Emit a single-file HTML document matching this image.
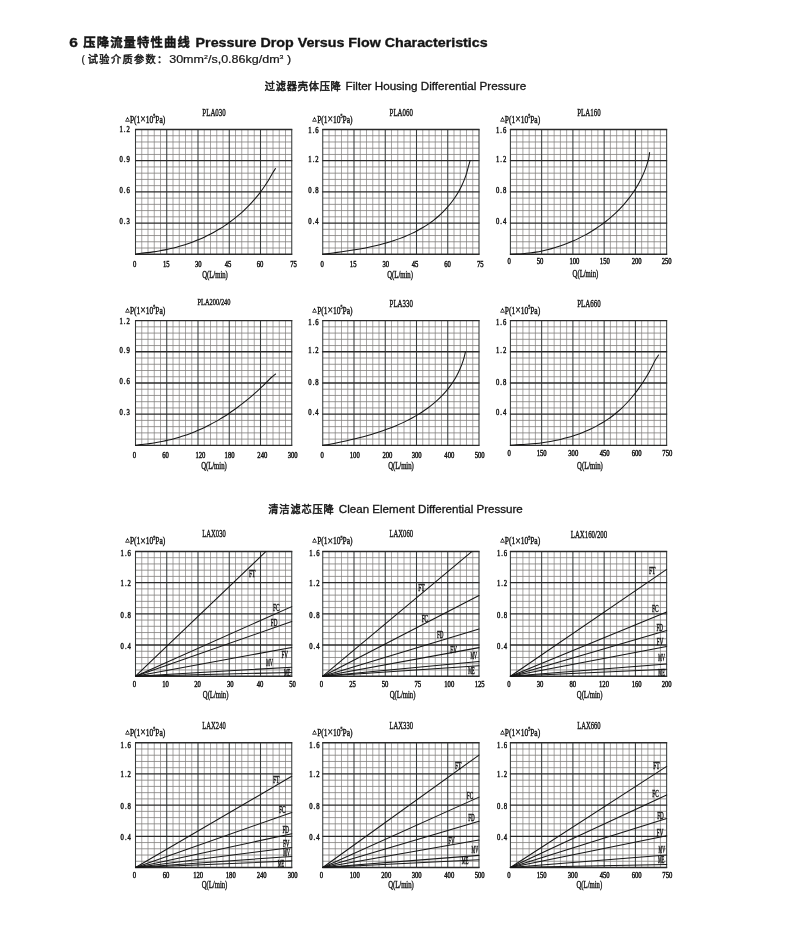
<!DOCTYPE html>
<html lang="zh"><head><meta charset="utf-8"><title>6 压降流量特性曲线 Pressure Drop Versus Flow Characteristics</title>
<style>
html,body{margin:0;padding:0;background:#fff;}
body{width:800px;height:927px;overflow:hidden;position:relative;}
svg{position:absolute;left:0;top:0;display:block;}
text{font-family:"Liberation Serif", serif;fill:#151515;stroke:#151515;stroke-width:0.4px;}
.sans{font-family:"Liberation Sans", "Noto Sans CJK SC", sans-serif;stroke:none;}
.mn{stroke-width:0.5px;}
.miv{fill:none;stroke:#82807e;stroke-width:0.7;}
.mih{fill:none;stroke:#807d7b;stroke-width:0.8;}
.mav{fill:none;stroke:#363a3a;stroke-width:1.05;}
.mah{fill:none;stroke:#2a2a2a;stroke-width:1.35;}
.cv{fill:none;stroke:#161616;stroke-width:1.05;stroke-linecap:round;}
</style></head>
<body>

<svg width="800" height="927" viewBox="0 0 800 927">
<rect width="800" height="927" fill="#fff"/>
<text class="sans" x="69.3" y="46.9" font-size="13.2" font-weight="bold" textLength="8.6" lengthAdjust="spacingAndGlyphs" style="stroke:#151515;stroke-width:0.35px">6</text>
<text class="sans" x="83.2" y="46.9" font-size="12.3" font-weight="bold" textLength="106.6" lengthAdjust="spacing" style="stroke:#151515;stroke-width:0.45px">压降流量特性曲线</text>
<text class="sans" x="195.6" y="46.8" font-size="12.9" font-weight="bold" textLength="292" lengthAdjust="spacingAndGlyphs" style="stroke:#151515;stroke-width:0.35px">Pressure Drop Versus Flow Characteristics</text>
<text class="sans" x="81.5" y="62.6" font-size="10.7" textLength="3.4" lengthAdjust="spacingAndGlyphs" style="stroke:#151515;stroke-width:0.2px">(</text>
<text class="sans" x="87.8" y="62.5" font-size="10.2" textLength="79.5" lengthAdjust="spacing" style="stroke:#151515;stroke-width:0.45px">试验介质参数：</text>
<text class="sans" x="169.2" y="62.6" font-size="10.7" textLength="122" lengthAdjust="spacingAndGlyphs" style="stroke:#151515;stroke-width:0.2px">30mm<tspan font-size="6" dy="-4">2</tspan><tspan dy="4">/s,0.86kg/dm</tspan><tspan font-size="6" dy="-4">3</tspan><tspan dy="4"> )</tspan></text>
<text class="sans" x="264.8" y="90.1" font-size="10.2" textLength="76" lengthAdjust="spacing" style="stroke:#151515;stroke-width:0.5px">过滤器壳体压降</text>
<text class="sans" x="345.6" y="90" font-size="10.8" textLength="180.6" lengthAdjust="spacingAndGlyphs" style="stroke:#151515;stroke-width:0.3px">Filter Housing Differential Pressure</text>
<text class="sans" x="268.3" y="512.6" font-size="10.2" textLength="65.4" lengthAdjust="spacing" style="stroke:#151515;stroke-width:0.5px">清洁滤芯压降</text>
<text class="sans" x="338.8" y="512.5" font-size="10.8" textLength="184" lengthAdjust="spacingAndGlyphs" style="stroke:#151515;stroke-width:0.3px">Clean Element Differential Pressure</text>
<g>
<path class="miv" d="M141.75 129.5V254.25M148 129.5V254.25M154.25 129.5V254.25M160.5 129.5V254.25M173 129.5V254.25M179.25 129.5V254.25M185.5 129.5V254.25M191.75 129.5V254.25M204.25 129.5V254.25M210.5 129.5V254.25M216.75 129.5V254.25M223 129.5V254.25M235.5 129.5V254.25M241.75 129.5V254.25M248 129.5V254.25M254.25 129.5V254.25M266.75 129.5V254.25M273 129.5V254.25M279.25 129.5V254.25M285.5 129.5V254.25"/>
<path class="mih" d="M135.5 135.74H291.75M135.5 141.97H291.75M135.5 148.21H291.75M135.5 154.45H291.75M135.5 166.93H291.75M135.5 173.16H291.75M135.5 179.4H291.75M135.5 185.64H291.75M135.5 198.11H291.75M135.5 204.35H291.75M135.5 210.59H291.75M135.5 216.82H291.75M135.5 229.3H291.75M135.5 235.54H291.75M135.5 241.78H291.75M135.5 248.01H291.75"/>
<path class="mav" d="M135.5 129V254.75M166.75 129V254.75M198 129V254.75M229.25 129V254.75M260.5 129V254.75M291.75 129V254.75"/>
<path class="mah" d="M135 129.5H292.25M135 160.69H292.25M135 191.88H292.25M135 223.06H292.25M135 254.25H292.25"/>
<text x="214.03" y="115.9" font-size="10.6" text-anchor="middle" textLength="23.4" lengthAdjust="spacingAndGlyphs">PLA030</text>
<text x="125" y="120.8" font-size="5.4" fill="#9a9a9a" stroke="none">&#9651;</text>
<text x="129.9" y="122.8" font-size="9.6" textLength="35.4" lengthAdjust="spacingAndGlyphs">P(1<tspan font-size="12.5" dy="0.3">&#215;</tspan><tspan dy="-0.3">10</tspan><tspan font-size="5.2" dy="-4.6">5</tspan><tspan dy="4.6">Pa)</tspan></text>
<text class="mn" transform="scale(0.74 1)" x="161.5 167.29 170.82" y="132.5" font-size="9">1.2</text>
<text class="mn" transform="scale(0.74 1)" x="161.5 167.29 170.82" y="162.29" font-size="9">0.9</text>
<text class="mn" transform="scale(0.74 1)" x="161.5 167.29 170.82" y="193.38" font-size="9">0.6</text>
<text class="mn" transform="scale(0.74 1)" x="161.5 167.29 170.82" y="223.86" font-size="9">0.3</text>
<text class="mn" transform="scale(0.74 1)" x="179.84" y="266.8" font-size="9">0</text>
<text class="mn" transform="scale(0.74 1)" x="220.18 224.64" y="266.8" font-size="9">15</text>
<text class="mn" transform="scale(0.74 1)" x="263.43 267.89" y="266.8" font-size="9">30</text>
<text class="mn" transform="scale(0.74 1)" x="303.63 308.09" y="266.8" font-size="9">45</text>
<text class="mn" transform="scale(0.74 1)" x="346.87 351.33" y="266.8" font-size="9">60</text>
<text class="mn" transform="scale(0.74 1)" x="392.14 396.6" y="266.8" font-size="9">75</text>
<text x="215.03" y="277.75" font-size="9.6" text-anchor="middle" textLength="25.6" lengthAdjust="spacingAndGlyphs">Q(L/min)</text>
</g>
<path class="cv" d="M135.5 254.25C136.46 254.08 139.31 253.49 141.27 253.22C143.22 252.96 145.24 252.86 147.22 252.64C149.2 252.42 151.18 252.17 153.15 251.89C155.13 251.61 157.09 251.31 159.05 250.97C161.02 250.64 162.97 250.27 164.92 249.88C166.86 249.49 168.8 249.06 170.73 248.61C172.67 248.16 174.59 247.68 176.5 247.17C178.41 246.65 180.31 246.11 182.2 245.54C184.09 244.97 185.98 244.36 187.84 243.73C189.71 243.09 191.56 242.43 193.4 241.73C195.24 241.03 197.07 240.3 198.88 239.54C200.7 238.78 202.49 237.98 204.28 237.15C206.06 236.33 207.82 235.47 209.57 234.57C211.32 233.68 213.05 232.75 214.76 231.79C216.47 230.83 218.16 229.83 219.84 228.81C221.51 227.78 223.16 226.72 224.8 225.63C226.43 224.54 228.04 223.42 229.63 222.27C231.22 221.11 232.78 219.93 234.33 218.71C235.87 217.49 237.39 216.25 238.88 214.97C240.38 213.69 241.85 212.38 243.29 211.04C244.74 209.71 246.16 208.34 247.55 206.94C248.94 205.54 250.3 204.11 251.64 202.66C252.97 201.2 254.28 199.71 255.56 198.2C256.83 196.68 258.08 195.14 259.3 193.57C260.51 192 261.7 190.4 262.85 188.77C264.01 187.15 265.13 185.49 266.22 183.81C267.31 182.13 268.36 180.42 269.38 178.69C270.4 176.95 271.32 175.1 272.34 173.41C273.36 171.71 274.97 169.32 275.5 168.5"/>
<g>
<path class="miv" d="M329 129.5V254.25M335.25 129.5V254.25M341.5 129.5V254.25M347.75 129.5V254.25M360.25 129.5V254.25M366.5 129.5V254.25M372.75 129.5V254.25M379 129.5V254.25M391.5 129.5V254.25M397.75 129.5V254.25M404 129.5V254.25M410.25 129.5V254.25M422.75 129.5V254.25M429 129.5V254.25M435.25 129.5V254.25M441.5 129.5V254.25M454 129.5V254.25M460.25 129.5V254.25M466.5 129.5V254.25M472.75 129.5V254.25"/>
<path class="mih" d="M322.75 135.74H479M322.75 141.97H479M322.75 148.21H479M322.75 154.45H479M322.75 166.93H479M322.75 173.16H479M322.75 179.4H479M322.75 185.64H479M322.75 198.11H479M322.75 204.35H479M322.75 210.59H479M322.75 216.82H479M322.75 229.3H479M322.75 235.54H479M322.75 241.78H479M322.75 248.01H479"/>
<path class="mav" d="M322.75 129V254.75M354 129V254.75M385.25 129V254.75M416.5 129V254.75M447.75 129V254.75M479 129V254.75"/>
<path class="mah" d="M322.25 129.5H479.5M322.25 160.69H479.5M322.25 191.88H479.5M322.25 223.06H479.5M322.25 254.25H479.5"/>
<text x="401.27" y="115.9" font-size="10.6" text-anchor="middle" textLength="23.4" lengthAdjust="spacingAndGlyphs">PLA060</text>
<text x="312.25" y="120.8" font-size="5.4" fill="#9a9a9a" stroke="none">&#9651;</text>
<text x="317.15" y="122.8" font-size="9.6" textLength="35.4" lengthAdjust="spacingAndGlyphs">P(1<tspan font-size="12.5" dy="0.3">&#215;</tspan><tspan dy="-0.3">10</tspan><tspan font-size="5.2" dy="-4.6">5</tspan><tspan dy="4.6">Pa)</tspan></text>
<text class="mn" transform="scale(0.74 1)" x="416.7 422.49 426.03" y="133.5" font-size="9">1.6</text>
<text class="mn" transform="scale(0.74 1)" x="416.7 422.49 426.03" y="162.19" font-size="9">1.2</text>
<text class="mn" transform="scale(0.74 1)" x="416.7 422.49 426.03" y="193.47" font-size="9">0.8</text>
<text class="mn" transform="scale(0.74 1)" x="416.7 422.49 426.03" y="224.06" font-size="9">0.4</text>
<text class="mn" transform="scale(0.74 1)" x="433.02" y="266.8" font-size="9">0</text>
<text class="mn" transform="scale(0.74 1)" x="472.82 477.28" y="266.8" font-size="9">15</text>
<text class="mn" transform="scale(0.74 1)" x="516.87 521.33" y="266.8" font-size="9">30</text>
<text class="mn" transform="scale(0.74 1)" x="556.33 560.79" y="266.8" font-size="9">45</text>
<text class="mn" transform="scale(0.74 1)" x="600.25 604.71" y="266.8" font-size="9">60</text>
<text class="mn" transform="scale(0.74 1)" x="644.57 649.03" y="266.8" font-size="9">75</text>
<text x="400.07" y="277.55" font-size="9.6" text-anchor="middle" textLength="25.6" lengthAdjust="spacingAndGlyphs">Q(L/min)</text>
</g>
<path class="cv" d="M322.75 254.25C323.83 254.11 327.11 253.68 329.23 253.41C331.36 253.14 333.39 252.89 335.48 252.61C337.58 252.34 339.7 252.06 341.83 251.76C343.95 251.46 346.09 251.16 348.23 250.83C350.38 250.51 352.53 250.17 354.69 249.81C356.85 249.45 359.01 249.08 361.17 248.68C363.34 248.28 365.5 247.86 367.66 247.42C369.82 246.98 371.99 246.51 374.14 246.02C376.29 245.52 378.44 245.01 380.58 244.45C382.71 243.9 384.84 243.33 386.96 242.71C389.07 242.1 391.18 241.46 393.26 240.77C395.35 240.09 397.42 239.38 399.47 238.62C401.52 237.87 403.55 237.08 405.56 236.24C407.56 235.41 409.55 234.53 411.5 233.61C413.46 232.69 415.39 231.73 417.29 230.72C419.19 229.71 421.06 228.65 422.89 227.54C424.73 226.44 426.53 225.28 428.29 224.07C430.06 222.86 431.79 221.61 433.47 220.3C435.16 218.99 436.8 217.63 438.4 216.23C440 214.82 441.56 213.37 443.07 211.86C444.58 210.36 446.04 208.81 447.45 207.21C448.86 205.61 450.22 203.96 451.53 202.27C452.83 200.57 454.08 198.83 455.28 197.04C456.47 195.25 457.6 193.41 458.67 191.53C459.75 189.65 460.76 187.72 461.7 185.74C462.65 183.76 463.53 181.74 464.34 179.68C465.15 177.61 465.9 175.5 466.57 173.34C467.24 171.18 467.77 168.86 468.36 166.73C468.95 164.61 469.81 161.62 470.1 160.6"/>
<g>
<path class="miv" d="M516.65 129.5V254.25M522.9 129.5V254.25M529.15 129.5V254.25M535.4 129.5V254.25M547.9 129.5V254.25M554.15 129.5V254.25M560.4 129.5V254.25M566.65 129.5V254.25M579.15 129.5V254.25M585.4 129.5V254.25M591.65 129.5V254.25M597.9 129.5V254.25M610.4 129.5V254.25M616.65 129.5V254.25M622.9 129.5V254.25M629.15 129.5V254.25M641.65 129.5V254.25M647.9 129.5V254.25M654.15 129.5V254.25M660.4 129.5V254.25"/>
<path class="mih" d="M510.4 135.74H666.65M510.4 141.97H666.65M510.4 148.21H666.65M510.4 154.45H666.65M510.4 166.93H666.65M510.4 173.16H666.65M510.4 179.4H666.65M510.4 185.64H666.65M510.4 198.11H666.65M510.4 204.35H666.65M510.4 210.59H666.65M510.4 216.82H666.65M510.4 229.3H666.65M510.4 235.54H666.65M510.4 241.78H666.65M510.4 248.01H666.65"/>
<path class="mav" d="M510.4 129V254.75M541.65 129V254.75M572.9 129V254.75M604.15 129V254.75M635.4 129V254.75M666.65 129V254.75"/>
<path class="mah" d="M509.9 129.5H667.15M509.9 160.69H667.15M509.9 191.88H667.15M509.9 223.06H667.15M509.9 254.25H667.15"/>
<text x="588.92" y="115.9" font-size="10.6" text-anchor="middle" textLength="23.4" lengthAdjust="spacingAndGlyphs">PLA160</text>
<text x="499.9" y="120.8" font-size="5.4" fill="#9a9a9a" stroke="none">&#9651;</text>
<text x="504.8" y="122.8" font-size="9.6" textLength="35.4" lengthAdjust="spacingAndGlyphs">P(1<tspan font-size="12.5" dy="0.3">&#215;</tspan><tspan dy="-0.3">10</tspan><tspan font-size="5.2" dy="-4.6">5</tspan><tspan dy="4.6">Pa)</tspan></text>
<text class="mn" transform="scale(0.74 1)" x="670.28 676.07 679.61" y="133.5" font-size="9">1.6</text>
<text class="mn" transform="scale(0.74 1)" x="670.28 676.07 679.61" y="162.19" font-size="9">1.2</text>
<text class="mn" transform="scale(0.74 1)" x="670.28 676.07 679.61" y="193.47" font-size="9">0.8</text>
<text class="mn" transform="scale(0.74 1)" x="670.28 676.07 679.61" y="224.06" font-size="9">0.4</text>
<text class="mn" transform="scale(0.74 1)" x="685.72" y="264.5" font-size="9">0</text>
<text class="mn" transform="scale(0.74 1)" x="725.25 729.71" y="264.5" font-size="9">50</text>
<text class="mn" transform="scale(0.74 1)" x="769.51 773.97 778.43" y="264.5" font-size="9">100</text>
<text class="mn" transform="scale(0.74 1)" x="810.59 815.05 819.51" y="264.5" font-size="9">150</text>
<text class="mn" transform="scale(0.74 1)" x="853.7 858.16 862.61" y="264.5" font-size="9">200</text>
<text class="mn" transform="scale(0.74 1)" x="894.1 898.56 903.02" y="264.5" font-size="9">250</text>
<text x="585.42" y="276.75" font-size="9.6" text-anchor="middle" textLength="25.6" lengthAdjust="spacingAndGlyphs">Q(L/min)</text>
</g>
<path class="cv" d="M510.4 254.25C511.49 254.22 514.8 254.17 516.93 254.08C519.06 253.99 521.11 253.88 523.2 253.71C525.3 253.54 527.4 253.33 529.49 253.07C531.59 252.8 533.69 252.5 535.79 252.14C537.88 251.79 539.98 251.39 542.07 250.95C544.16 250.51 546.25 250.02 548.32 249.49C550.4 248.96 552.48 248.39 554.54 247.77C556.6 247.16 558.65 246.5 560.69 245.8C562.73 245.1 564.76 244.35 566.77 243.57C568.79 242.78 570.79 241.96 572.77 241.09C574.75 240.22 576.72 239.31 578.66 238.37C580.61 237.42 582.53 236.43 584.44 235.4C586.34 234.38 588.22 233.31 590.08 232.21C591.94 231.1 593.77 229.96 595.58 228.78C597.38 227.6 599.16 226.38 600.91 225.12C602.66 223.87 604.38 222.57 606.06 221.24C607.75 219.91 609.41 218.55 611.03 217.15C612.65 215.75 614.23 214.31 615.78 212.84C617.33 211.36 618.84 209.86 620.31 208.32C621.79 206.77 623.22 205.2 624.61 203.59C626 201.98 627.35 200.34 628.65 198.66C629.95 196.99 631.21 195.28 632.42 193.54C633.63 191.8 634.8 190.03 635.91 188.23C637.03 186.42 638.1 184.59 639.11 182.72C640.12 180.86 641.08 178.96 641.99 177.04C642.89 175.11 643.75 173.15 644.54 171.17C645.33 169.18 646.07 167.17 646.75 165.13C647.42 163.09 648.12 161.02 648.6 158.92C649.07 156.81 649.43 153.57 649.6 152.5"/>
<g>
<path class="miv" d="M141.75 320.6V445.35M148 320.6V445.35M154.25 320.6V445.35M160.5 320.6V445.35M173 320.6V445.35M179.25 320.6V445.35M185.5 320.6V445.35M191.75 320.6V445.35M204.25 320.6V445.35M210.5 320.6V445.35M216.75 320.6V445.35M223 320.6V445.35M235.5 320.6V445.35M241.75 320.6V445.35M248 320.6V445.35M254.25 320.6V445.35M266.75 320.6V445.35M273 320.6V445.35M279.25 320.6V445.35M285.5 320.6V445.35"/>
<path class="mih" d="M135.5 326.84H291.75M135.5 333.08H291.75M135.5 339.31H291.75M135.5 345.55H291.75M135.5 358.03H291.75M135.5 364.26H291.75M135.5 370.5H291.75M135.5 376.74H291.75M135.5 389.21H291.75M135.5 395.45H291.75M135.5 401.69H291.75M135.5 407.93H291.75M135.5 420.4H291.75M135.5 426.64H291.75M135.5 432.88H291.75M135.5 439.11H291.75"/>
<path class="mav" d="M135.5 320.1V445.85M166.75 320.1V445.85M198 320.1V445.85M229.25 320.1V445.85M260.5 320.1V445.85M291.75 320.1V445.85"/>
<path class="mah" d="M135 320.6H292.25M135 351.79H292.25M135 382.98H292.25M135 414.16H292.25M135 445.35H292.25"/>
<text x="214.03" y="305.4" font-size="8.8" text-anchor="middle" textLength="33" lengthAdjust="spacingAndGlyphs">PLA200/240</text>
<text x="125" y="311.9" font-size="5.4" fill="#9a9a9a" stroke="none">&#9651;</text>
<text x="129.9" y="313.9" font-size="9.6" textLength="35.4" lengthAdjust="spacingAndGlyphs">P(1<tspan font-size="12.5" dy="0.3">&#215;</tspan><tspan dy="-0.3">10</tspan><tspan font-size="5.2" dy="-4.6">5</tspan><tspan dy="4.6">Pa)</tspan></text>
<text class="mn" transform="scale(0.74 1)" x="161.5 167.29 170.82" y="323.6" font-size="9">1.2</text>
<text class="mn" transform="scale(0.74 1)" x="161.5 167.29 170.82" y="353.39" font-size="9">0.9</text>
<text class="mn" transform="scale(0.74 1)" x="161.5 167.29 170.82" y="384.48" font-size="9">0.6</text>
<text class="mn" transform="scale(0.74 1)" x="161.5 167.29 170.82" y="414.96" font-size="9">0.3</text>
<text class="mn" transform="scale(0.74 1)" x="179.51" y="457.9" font-size="9">0</text>
<text class="mn" transform="scale(0.74 1)" x="219.17 223.63" y="457.9" font-size="9">60</text>
<text class="mn" transform="scale(0.74 1)" x="264.1 268.56 273.02" y="457.9" font-size="9">120</text>
<text class="mn" transform="scale(0.74 1)" x="303.56 308.02 312.48" y="457.9" font-size="9">180</text>
<text class="mn" transform="scale(0.74 1)" x="347.75 352.21 356.67" y="457.9" font-size="9">240</text>
<text class="mn" transform="scale(0.74 1)" x="388.7 393.16 397.61" y="457.9" font-size="9">300</text>
<text x="213.93" y="468.6" font-size="9.6" text-anchor="middle" textLength="25.6" lengthAdjust="spacingAndGlyphs">Q(L/min)</text>
</g>
<path class="cv" d="M135.5 445.35C136.4 445.21 139.08 444.73 140.93 444.49C142.77 444.25 144.71 444.13 146.58 443.91C148.46 443.69 150.32 443.45 152.18 443.17C154.04 442.9 155.89 442.61 157.72 442.28C159.56 441.96 161.39 441.61 163.21 441.23C165.03 440.86 166.84 440.46 168.64 440.03C170.44 439.6 172.23 439.15 174.01 438.67C175.79 438.19 177.56 437.68 179.32 437.15C181.08 436.62 182.83 436.06 184.57 435.47C186.31 434.89 188.04 434.28 189.75 433.64C191.47 433.01 193.18 432.35 194.88 431.66C196.58 430.97 198.26 430.26 199.94 429.52C201.61 428.78 203.28 428.01 204.93 427.22C206.59 426.43 208.23 425.61 209.86 424.77C211.49 423.93 213.11 423.06 214.72 422.16C216.33 421.27 217.93 420.35 219.51 419.4C221.1 418.46 222.67 417.49 224.24 416.5C225.8 415.51 227.35 414.49 228.89 413.46C230.43 412.42 231.95 411.37 233.47 410.29C234.99 409.22 236.49 408.12 237.98 407.01C239.47 405.89 240.95 404.76 242.41 403.61C243.88 402.46 245.33 401.3 246.78 400.12C248.22 398.93 249.64 397.74 251.06 396.53C252.48 395.32 253.88 394.09 255.27 392.85C256.66 391.62 258.04 390.37 259.4 389.11C260.76 387.85 262.12 386.57 263.45 385.29C264.79 384.01 266.12 382.72 267.43 381.42C268.74 380.12 269.96 378.74 271.32 377.5C272.68 376.26 274.89 374.58 275.6 374"/>
<g>
<path class="miv" d="M329 320.6V445.35M335.25 320.6V445.35M341.5 320.6V445.35M347.75 320.6V445.35M360.25 320.6V445.35M366.5 320.6V445.35M372.75 320.6V445.35M379 320.6V445.35M391.5 320.6V445.35M397.75 320.6V445.35M404 320.6V445.35M410.25 320.6V445.35M422.75 320.6V445.35M429 320.6V445.35M435.25 320.6V445.35M441.5 320.6V445.35M454 320.6V445.35M460.25 320.6V445.35M466.5 320.6V445.35M472.75 320.6V445.35"/>
<path class="mih" d="M322.75 326.84H479M322.75 333.08H479M322.75 339.31H479M322.75 345.55H479M322.75 358.03H479M322.75 364.26H479M322.75 370.5H479M322.75 376.74H479M322.75 389.21H479M322.75 395.45H479M322.75 401.69H479M322.75 407.93H479M322.75 420.4H479M322.75 426.64H479M322.75 432.88H479M322.75 439.11H479"/>
<path class="mav" d="M322.75 320.1V445.85M354 320.1V445.85M385.25 320.1V445.85M416.5 320.1V445.85M447.75 320.1V445.85M479 320.1V445.85"/>
<path class="mah" d="M322.25 320.6H479.5M322.25 351.79H479.5M322.25 382.98H479.5M322.25 414.16H479.5M322.25 445.35H479.5"/>
<text x="401.27" y="307" font-size="10.6" text-anchor="middle" textLength="23.4" lengthAdjust="spacingAndGlyphs">PLA330</text>
<text x="312.25" y="311.9" font-size="5.4" fill="#9a9a9a" stroke="none">&#9651;</text>
<text x="317.15" y="313.9" font-size="9.6" textLength="35.4" lengthAdjust="spacingAndGlyphs">P(1<tspan font-size="12.5" dy="0.3">&#215;</tspan><tspan dy="-0.3">10</tspan><tspan font-size="5.2" dy="-4.6">5</tspan><tspan dy="4.6">Pa)</tspan></text>
<text class="mn" transform="scale(0.74 1)" x="416.7 422.49 426.03" y="324.6" font-size="9">1.6</text>
<text class="mn" transform="scale(0.74 1)" x="416.7 422.49 426.03" y="353.29" font-size="9">1.2</text>
<text class="mn" transform="scale(0.74 1)" x="416.7 422.49 426.03" y="384.58" font-size="9">0.8</text>
<text class="mn" transform="scale(0.74 1)" x="416.7 422.49 426.03" y="415.16" font-size="9">0.4</text>
<text class="mn" transform="scale(0.74 1)" x="433.02" y="457.9" font-size="9">0</text>
<text class="mn" transform="scale(0.74 1)" x="472.68 477.14 481.6" y="457.9" font-size="9">100</text>
<text class="mn" transform="scale(0.74 1)" x="516.8 521.26 525.72" y="457.9" font-size="9">200</text>
<text class="mn" transform="scale(0.74 1)" x="556.26 560.72 565.18" y="457.9" font-size="9">300</text>
<text class="mn" transform="scale(0.74 1)" x="600.45 604.91 609.37" y="457.9" font-size="9">400</text>
<text class="mn" transform="scale(0.74 1)" x="641.4 645.86 650.32" y="457.9" font-size="9">500</text>
<text x="400.98" y="468.6" font-size="9.6" text-anchor="middle" textLength="25.6" lengthAdjust="spacingAndGlyphs">Q(L/min)</text>
</g>
<path class="cv" d="M322.75 445.35C323.79 445.19 326.97 444.75 328.99 444.41C331.01 444.06 332.89 443.67 334.87 443.27C336.84 442.88 338.83 442.48 340.83 442.06C342.83 441.64 344.84 441.21 346.86 440.76C348.88 440.3 350.92 439.84 352.95 439.35C354.99 438.86 357.03 438.36 359.07 437.83C361.11 437.31 363.16 436.77 365.21 436.2C367.25 435.63 369.3 435.05 371.34 434.44C373.38 433.83 375.42 433.19 377.45 432.54C379.48 431.88 381.5 431.2 383.51 430.49C385.53 429.78 387.53 429.05 389.52 428.28C391.51 427.52 393.49 426.73 395.45 425.92C397.4 425.1 399.35 424.25 401.27 423.37C403.19 422.5 405.1 421.59 406.98 420.65C408.86 419.71 410.72 418.73 412.55 417.73C414.38 416.72 416.19 415.68 417.97 414.61C419.75 413.53 421.5 412.42 423.21 411.27C424.93 410.13 426.61 408.94 428.26 407.72C429.91 406.5 431.52 405.24 433.1 403.94C434.67 402.64 436.21 401.3 437.7 399.92C439.19 398.54 440.65 397.11 442.05 395.65C443.46 394.18 444.82 392.68 446.14 391.12C447.45 389.57 448.72 387.97 449.93 386.33C451.15 384.69 452.31 383 453.42 381.26C454.53 379.52 455.59 377.74 456.59 375.91C457.58 374.07 458.52 372.19 459.4 370.26C460.28 368.33 461.1 366.35 461.86 364.31C462.61 362.27 463.34 360.1 463.93 358.05C464.52 356 465.15 353.01 465.4 352"/>
<g>
<path class="miv" d="M516.65 320.6V445.35M522.9 320.6V445.35M529.15 320.6V445.35M535.4 320.6V445.35M547.9 320.6V445.35M554.15 320.6V445.35M560.4 320.6V445.35M566.65 320.6V445.35M579.15 320.6V445.35M585.4 320.6V445.35M591.65 320.6V445.35M597.9 320.6V445.35M610.4 320.6V445.35M616.65 320.6V445.35M622.9 320.6V445.35M629.15 320.6V445.35M641.65 320.6V445.35M647.9 320.6V445.35M654.15 320.6V445.35M660.4 320.6V445.35"/>
<path class="mih" d="M510.4 326.84H666.65M510.4 333.08H666.65M510.4 339.31H666.65M510.4 345.55H666.65M510.4 358.03H666.65M510.4 364.26H666.65M510.4 370.5H666.65M510.4 376.74H666.65M510.4 389.21H666.65M510.4 395.45H666.65M510.4 401.69H666.65M510.4 407.93H666.65M510.4 420.4H666.65M510.4 426.64H666.65M510.4 432.88H666.65M510.4 439.11H666.65"/>
<path class="mav" d="M510.4 320.1V445.85M541.65 320.1V445.85M572.9 320.1V445.85M604.15 320.1V445.85M635.4 320.1V445.85M666.65 320.1V445.85"/>
<path class="mah" d="M509.9 320.6H667.15M509.9 351.79H667.15M509.9 382.98H667.15M509.9 414.16H667.15M509.9 445.35H667.15"/>
<text x="588.92" y="307" font-size="10.6" text-anchor="middle" textLength="23.4" lengthAdjust="spacingAndGlyphs">PLA660</text>
<text x="499.9" y="311.9" font-size="5.4" fill="#9a9a9a" stroke="none">&#9651;</text>
<text x="504.8" y="313.9" font-size="9.6" textLength="35.4" lengthAdjust="spacingAndGlyphs">P(1<tspan font-size="12.5" dy="0.3">&#215;</tspan><tspan dy="-0.3">10</tspan><tspan font-size="5.2" dy="-4.6">5</tspan><tspan dy="4.6">Pa)</tspan></text>
<text class="mn" transform="scale(0.74 1)" x="670.28 676.07 679.61" y="324.6" font-size="9">1.6</text>
<text class="mn" transform="scale(0.74 1)" x="670.28 676.07 679.61" y="353.29" font-size="9">1.2</text>
<text class="mn" transform="scale(0.74 1)" x="670.28 676.07 679.61" y="384.58" font-size="9">0.8</text>
<text class="mn" transform="scale(0.74 1)" x="670.28 676.07 679.61" y="415.16" font-size="9">0.4</text>
<text class="mn" transform="scale(0.74 1)" x="685.72" y="456.1" font-size="9">0</text>
<text class="mn" transform="scale(0.74 1)" x="725.39 729.84 734.3" y="456.1" font-size="9">150</text>
<text class="mn" transform="scale(0.74 1)" x="767.95 772.41 776.87" y="456.1" font-size="9">300</text>
<text class="mn" transform="scale(0.74 1)" x="810.52 814.98 819.44" y="456.1" font-size="9">450</text>
<text class="mn" transform="scale(0.74 1)" x="853.7 858.16 862.61" y="456.1" font-size="9">600</text>
<text class="mn" transform="scale(0.74 1)" x="895.05 899.51 903.97" y="456.1" font-size="9">750</text>
<text x="589.92" y="468.65" font-size="9.6" text-anchor="middle" textLength="25.6" lengthAdjust="spacingAndGlyphs">Q(L/min)</text>
</g>
<path class="cv" d="M510.4 445.35C511.44 445.25 514.52 444.87 516.62 444.73C518.73 444.59 520.91 444.6 523.05 444.5C525.2 444.39 527.35 444.26 529.49 444.09C531.63 443.93 533.78 443.73 535.92 443.51C538.06 443.28 540.2 443.02 542.33 442.73C544.47 442.44 546.6 442.11 548.71 441.76C550.83 441.4 552.95 441 555.05 440.58C557.15 440.15 559.24 439.68 561.32 439.18C563.4 438.68 565.47 438.14 567.52 437.57C569.57 436.99 571.61 436.38 573.62 435.72C575.64 435.07 577.65 434.37 579.63 433.64C581.61 432.9 583.58 432.13 585.52 431.31C587.46 430.49 589.38 429.64 591.28 428.73C593.17 427.83 595.05 426.88 596.89 425.89C598.74 424.9 600.56 423.86 602.35 422.78C604.14 421.7 605.9 420.57 607.63 419.39C609.36 418.22 611.06 416.99 612.73 415.72C614.39 414.45 616.03 413.13 617.63 411.76C619.22 410.39 620.79 408.97 622.32 407.51C623.84 406.05 625.34 404.54 626.8 403C628.26 401.45 629.68 399.86 631.07 398.24C632.46 396.62 633.82 394.96 635.14 393.28C636.46 391.59 637.75 389.87 639 388.12C640.25 386.37 641.47 384.59 642.65 382.79C643.83 380.99 644.98 379.16 646.1 377.32C647.21 375.48 648.29 373.61 649.33 371.73C650.38 369.85 651.39 367.94 652.36 366.04C653.34 364.13 654.15 362.11 655.19 360.27C656.23 358.43 658.03 355.88 658.6 355"/>
<g>
<path class="miv" d="M141.75 551.45V676.2M148 551.45V676.2M154.25 551.45V676.2M160.5 551.45V676.2M173 551.45V676.2M179.25 551.45V676.2M185.5 551.45V676.2M191.75 551.45V676.2M204.25 551.45V676.2M210.5 551.45V676.2M216.75 551.45V676.2M223 551.45V676.2M235.5 551.45V676.2M241.75 551.45V676.2M248 551.45V676.2M254.25 551.45V676.2M266.75 551.45V676.2M273 551.45V676.2M279.25 551.45V676.2M285.5 551.45V676.2"/>
<path class="mih" d="M135.5 557.69H291.75M135.5 563.93H291.75M135.5 570.16H291.75M135.5 576.4H291.75M135.5 588.88H291.75M135.5 595.11H291.75M135.5 601.35H291.75M135.5 607.59H291.75M135.5 620.06H291.75M135.5 626.3H291.75M135.5 632.54H291.75M135.5 638.78H291.75M135.5 651.25H291.75M135.5 657.49H291.75M135.5 663.73H291.75M135.5 669.96H291.75"/>
<path class="mav" d="M135.5 550.95V676.7M166.75 550.95V676.7M198 550.95V676.7M229.25 550.95V676.7M260.5 550.95V676.7M291.75 550.95V676.7"/>
<path class="mah" d="M135 551.45H292.25M135 582.64H292.25M135 613.83H292.25M135 645.01H292.25M135 676.2H292.25"/>
<text x="214.03" y="537.35" font-size="10.6" text-anchor="middle" textLength="23.4" lengthAdjust="spacingAndGlyphs">LAX030</text>
<text x="125" y="542.25" font-size="5.4" fill="#9a9a9a" stroke="none">&#9651;</text>
<text x="129.9" y="544.25" font-size="9.6" textLength="35.4" lengthAdjust="spacingAndGlyphs">P(1<tspan font-size="12.5" dy="0.3">&#215;</tspan><tspan dy="-0.3">10</tspan><tspan font-size="5.2" dy="-4.6">5</tspan><tspan dy="4.6">Pa)</tspan></text>
<text class="mn" transform="scale(0.74 1)" x="162.99 168.77 172.31" y="556.25" font-size="9">1.6</text>
<text class="mn" transform="scale(0.74 1)" x="162.99 168.77 172.31" y="585.94" font-size="9">1.2</text>
<text class="mn" transform="scale(0.74 1)" x="162.99 168.77 172.31" y="617.93" font-size="9">0.8</text>
<text class="mn" transform="scale(0.74 1)" x="162.99 168.77 172.31" y="649.11" font-size="9">0.4</text>
<text class="mn" transform="scale(0.74 1)" x="179.51" y="687.05" font-size="9">0</text>
<text class="mn" transform="scale(0.74 1)" x="219.17 223.63" y="687.05" font-size="9">10</text>
<text class="mn" transform="scale(0.74 1)" x="262.41 266.87" y="687.05" font-size="9">20</text>
<text class="mn" transform="scale(0.74 1)" x="306.74 311.2" y="687.05" font-size="9">30</text>
<text class="mn" transform="scale(0.74 1)" x="346.87 351.33" y="687.05" font-size="9">40</text>
<text class="mn" transform="scale(0.74 1)" x="390.93 395.39" y="687.05" font-size="9">50</text>
<text x="215.62" y="697.85" font-size="9.6" text-anchor="middle" textLength="25.6" lengthAdjust="spacingAndGlyphs">Q(L/min)</text>
</g>
<path class="cv" d="M135.5 676.2L266 551.45"/>
<path class="cv" d="M135.5 676.2L291.75 606.62"/>
<path class="cv" d="M135.5 676.2L291.75 621.5"/>
<path class="cv" d="M135.5 676.2L291.75 647.42"/>
<path class="cv" d="M135.5 676.2L291.75 667.19"/>
<path class="cv" d="M135.5 676.2L291.75 672.5"/>
<text x="252.19" y="576.79" font-size="9.3" text-anchor="middle" textLength="6.5" lengthAdjust="spacingAndGlyphs">FT</text>
<text x="276.2" y="611.21" font-size="9.3" text-anchor="middle" textLength="6.5" lengthAdjust="spacingAndGlyphs">FC</text>
<text x="274.07" y="625.66" font-size="9.3" text-anchor="middle" textLength="6.5" lengthAdjust="spacingAndGlyphs">FD</text>
<text x="284.7" y="657.96" font-size="9.3" text-anchor="middle" textLength="6.5" lengthAdjust="spacingAndGlyphs">FV</text>
<text x="269.61" y="665.61" font-size="9.3" text-anchor="middle" textLength="6.5" lengthAdjust="spacingAndGlyphs">MV</text>
<text x="287.25" y="675.6" font-size="9.3" text-anchor="middle" textLength="6.5" lengthAdjust="spacingAndGlyphs">ME</text>
<g>
<path class="miv" d="M329 551.45V676.2M335.25 551.45V676.2M341.5 551.45V676.2M347.75 551.45V676.2M360.25 551.45V676.2M366.5 551.45V676.2M372.75 551.45V676.2M379 551.45V676.2M391.5 551.45V676.2M397.75 551.45V676.2M404 551.45V676.2M410.25 551.45V676.2M422.75 551.45V676.2M429 551.45V676.2M435.25 551.45V676.2M441.5 551.45V676.2M454 551.45V676.2M460.25 551.45V676.2M466.5 551.45V676.2M472.75 551.45V676.2"/>
<path class="mih" d="M322.75 557.69H479M322.75 563.93H479M322.75 570.16H479M322.75 576.4H479M322.75 588.88H479M322.75 595.11H479M322.75 601.35H479M322.75 607.59H479M322.75 620.06H479M322.75 626.3H479M322.75 632.54H479M322.75 638.78H479M322.75 651.25H479M322.75 657.49H479M322.75 663.73H479M322.75 669.96H479"/>
<path class="mav" d="M322.75 550.95V676.7M354 550.95V676.7M385.25 550.95V676.7M416.5 550.95V676.7M447.75 550.95V676.7M479 550.95V676.7"/>
<path class="mah" d="M322.25 551.45H479.5M322.25 582.64H479.5M322.25 613.83H479.5M322.25 645.01H479.5M322.25 676.2H479.5"/>
<text x="401.27" y="537.35" font-size="10.6" text-anchor="middle" textLength="23.4" lengthAdjust="spacingAndGlyphs">LAX060</text>
<text x="312.25" y="542.25" font-size="5.4" fill="#9a9a9a" stroke="none">&#9651;</text>
<text x="317.15" y="544.25" font-size="9.6" textLength="35.4" lengthAdjust="spacingAndGlyphs">P(1<tspan font-size="12.5" dy="0.3">&#215;</tspan><tspan dy="-0.3">10</tspan><tspan font-size="5.2" dy="-4.6">5</tspan><tspan dy="4.6">Pa)</tspan></text>
<text class="mn" transform="scale(0.74 1)" x="417.92 423.71 427.24" y="556.25" font-size="9">1.6</text>
<text class="mn" transform="scale(0.74 1)" x="417.92 423.71 427.24" y="585.94" font-size="9">1.2</text>
<text class="mn" transform="scale(0.74 1)" x="417.92 423.71 427.24" y="617.93" font-size="9">0.8</text>
<text class="mn" transform="scale(0.74 1)" x="417.92 423.71 427.24" y="649.11" font-size="9">0.4</text>
<text class="mn" transform="scale(0.74 1)" x="432.21" y="686.95" font-size="9">0</text>
<text class="mn" transform="scale(0.74 1)" x="471.87 476.33" y="686.95" font-size="9">25</text>
<text class="mn" transform="scale(0.74 1)" x="515.93 520.39" y="686.95" font-size="9">50</text>
<text class="mn" transform="scale(0.74 1)" x="560.05 564.51" y="686.95" font-size="9">75</text>
<text class="mn" transform="scale(0.74 1)" x="600.39 604.84 609.3" y="686.95" font-size="9">100</text>
<text class="mn" transform="scale(0.74 1)" x="641.4 645.86 650.32" y="686.95" font-size="9">125</text>
<text x="402.57" y="697.85" font-size="9.6" text-anchor="middle" textLength="25.6" lengthAdjust="spacingAndGlyphs">Q(L/min)</text>
</g>
<path class="cv" d="M322.75 676.2L472.06 551.45"/>
<path class="cv" d="M322.75 676.2L479 595.58"/>
<path class="cv" d="M322.75 676.2L479 628.94"/>
<path class="cv" d="M322.75 676.2L479 647.64"/>
<path class="cv" d="M322.75 676.2L479 661.45"/>
<path class="cv" d="M322.75 676.2L479 665.7"/>
<text x="421.49" y="591.24" font-size="9.3" text-anchor="middle" textLength="6.5" lengthAdjust="spacingAndGlyphs">FT</text>
<text x="424.89" y="621.84" font-size="9.3" text-anchor="middle" textLength="6.5" lengthAdjust="spacingAndGlyphs">FC</text>
<text x="440.19" y="637.77" font-size="9.3" text-anchor="middle" textLength="6.5" lengthAdjust="spacingAndGlyphs">FD</text>
<text x="453.57" y="653.29" font-size="9.3" text-anchor="middle" textLength="6.5" lengthAdjust="spacingAndGlyphs">FV</text>
<text x="473.76" y="658.6" font-size="9.3" text-anchor="middle" textLength="6.5" lengthAdjust="spacingAndGlyphs">MV</text>
<text x="471.42" y="673.9" font-size="9.3" text-anchor="middle" textLength="6.5" lengthAdjust="spacingAndGlyphs">ME</text>
<g>
<path class="miv" d="M516.65 551.45V676.2M522.9 551.45V676.2M529.15 551.45V676.2M535.4 551.45V676.2M547.9 551.45V676.2M554.15 551.45V676.2M560.4 551.45V676.2M566.65 551.45V676.2M579.15 551.45V676.2M585.4 551.45V676.2M591.65 551.45V676.2M597.9 551.45V676.2M610.4 551.45V676.2M616.65 551.45V676.2M622.9 551.45V676.2M629.15 551.45V676.2M641.65 551.45V676.2M647.9 551.45V676.2M654.15 551.45V676.2M660.4 551.45V676.2"/>
<path class="mih" d="M510.4 557.69H666.65M510.4 563.93H666.65M510.4 570.16H666.65M510.4 576.4H666.65M510.4 588.88H666.65M510.4 595.11H666.65M510.4 601.35H666.65M510.4 607.59H666.65M510.4 620.06H666.65M510.4 626.3H666.65M510.4 632.54H666.65M510.4 638.78H666.65M510.4 651.25H666.65M510.4 657.49H666.65M510.4 663.73H666.65M510.4 669.96H666.65"/>
<path class="mav" d="M510.4 550.95V676.7M541.65 550.95V676.7M572.9 550.95V676.7M604.15 550.95V676.7M635.4 550.95V676.7M666.65 550.95V676.7"/>
<path class="mah" d="M509.9 551.45H667.15M509.9 582.64H667.15M509.9 613.83H667.15M509.9 645.01H667.15M509.9 676.2H667.15"/>
<text x="588.92" y="538.05" font-size="10.6" text-anchor="middle" textLength="36.4" lengthAdjust="spacingAndGlyphs">LAX160/200</text>
<text x="499.9" y="542.25" font-size="5.4" fill="#9a9a9a" stroke="none">&#9651;</text>
<text x="504.8" y="544.25" font-size="9.6" textLength="35.4" lengthAdjust="spacingAndGlyphs">P(1<tspan font-size="12.5" dy="0.3">&#215;</tspan><tspan dy="-0.3">10</tspan><tspan font-size="5.2" dy="-4.6">5</tspan><tspan dy="4.6">Pa)</tspan></text>
<text class="mn" transform="scale(0.74 1)" x="671.5 677.29 680.82" y="556.25" font-size="9">1.6</text>
<text class="mn" transform="scale(0.74 1)" x="671.5 677.29 680.82" y="585.94" font-size="9">1.2</text>
<text class="mn" transform="scale(0.74 1)" x="671.5 677.29 680.82" y="617.93" font-size="9">0.8</text>
<text class="mn" transform="scale(0.74 1)" x="671.5 677.29 680.82" y="649.11" font-size="9">0.4</text>
<text class="mn" transform="scale(0.74 1)" x="685.59" y="686.95" font-size="9">0</text>
<text class="mn" transform="scale(0.74 1)" x="725.25 729.71" y="686.95" font-size="9">30</text>
<text class="mn" transform="scale(0.74 1)" x="769.57 774.03" y="686.95" font-size="9">80</text>
<text class="mn" transform="scale(0.74 1)" x="809.51 813.97 818.43" y="686.95" font-size="9">120</text>
<text class="mn" transform="scale(0.74 1)" x="853.7 858.16 862.61" y="686.95" font-size="9">160</text>
<text class="mn" transform="scale(0.74 1)" x="894.1 898.56 903.02" y="686.95" font-size="9">200</text>
<text x="589.62" y="697.85" font-size="9.6" text-anchor="middle" textLength="25.6" lengthAdjust="spacingAndGlyphs">Q(L/min)</text>
</g>
<path class="cv" d="M510.4 676.2L666.65 569.44"/>
<path class="cv" d="M510.4 676.2L666.65 611.94"/>
<path class="cv" d="M510.4 676.2L666.65 630.42"/>
<path class="cv" d="M510.4 676.2L666.65 646.58"/>
<path class="cv" d="M510.4 676.2L666.65 664"/>
<path class="cv" d="M510.4 676.2L666.65 669.31"/>
<text x="652.26" y="573.6" font-size="9.3" text-anchor="middle" textLength="6.5" lengthAdjust="spacingAndGlyphs">FT</text>
<text x="655.24" y="612.49" font-size="9.3" text-anchor="middle" textLength="6.5" lengthAdjust="spacingAndGlyphs">FC</text>
<text x="659.7" y="630.98" font-size="9.3" text-anchor="middle" textLength="6.5" lengthAdjust="spacingAndGlyphs">FD</text>
<text x="660.12" y="645.21" font-size="9.3" text-anchor="middle" textLength="6.5" lengthAdjust="spacingAndGlyphs">FV</text>
<text x="661.61" y="660.73" font-size="9.3" text-anchor="middle" textLength="6.5" lengthAdjust="spacingAndGlyphs">MV</text>
<text x="661.61" y="675.6" font-size="9.3" text-anchor="middle" textLength="6.5" lengthAdjust="spacingAndGlyphs">ME</text>
<g>
<path class="miv" d="M141.75 742.75V867.5M148 742.75V867.5M154.25 742.75V867.5M160.5 742.75V867.5M173 742.75V867.5M179.25 742.75V867.5M185.5 742.75V867.5M191.75 742.75V867.5M204.25 742.75V867.5M210.5 742.75V867.5M216.75 742.75V867.5M223 742.75V867.5M235.5 742.75V867.5M241.75 742.75V867.5M248 742.75V867.5M254.25 742.75V867.5M266.75 742.75V867.5M273 742.75V867.5M279.25 742.75V867.5M285.5 742.75V867.5"/>
<path class="mih" d="M135.5 748.99H291.75M135.5 755.23H291.75M135.5 761.46H291.75M135.5 767.7H291.75M135.5 780.17H291.75M135.5 786.41H291.75M135.5 792.65H291.75M135.5 798.89H291.75M135.5 811.36H291.75M135.5 817.6H291.75M135.5 823.84H291.75M135.5 830.08H291.75M135.5 842.55H291.75M135.5 848.79H291.75M135.5 855.02H291.75M135.5 861.26H291.75"/>
<path class="mav" d="M135.5 742.25V868M166.75 742.25V868M198 742.25V868M229.25 742.25V868M260.5 742.25V868M291.75 742.25V868"/>
<path class="mah" d="M135 742.75H292.25M135 773.94H292.25M135 805.12H292.25M135 836.31H292.25M135 867.5H292.25"/>
<text x="214.03" y="728.65" font-size="10.6" text-anchor="middle" textLength="23.4" lengthAdjust="spacingAndGlyphs">LAX240</text>
<text x="125" y="733.55" font-size="5.4" fill="#9a9a9a" stroke="none">&#9651;</text>
<text x="129.9" y="735.55" font-size="9.6" textLength="35.4" lengthAdjust="spacingAndGlyphs">P(1<tspan font-size="12.5" dy="0.3">&#215;</tspan><tspan dy="-0.3">10</tspan><tspan font-size="5.2" dy="-4.6">5</tspan><tspan dy="4.6">Pa)</tspan></text>
<text class="mn" transform="scale(0.74 1)" x="162.99 168.77 172.31" y="747.55" font-size="9">1.6</text>
<text class="mn" transform="scale(0.74 1)" x="162.99 168.77 172.31" y="777.24" font-size="9">1.2</text>
<text class="mn" transform="scale(0.74 1)" x="162.99 168.77 172.31" y="809.23" font-size="9">0.8</text>
<text class="mn" transform="scale(0.74 1)" x="162.99 168.77 172.31" y="840.41" font-size="9">0.4</text>
<text class="mn" transform="scale(0.74 1)" x="179.51" y="878" font-size="9">0</text>
<text class="mn" transform="scale(0.74 1)" x="219.84 224.3" y="878" font-size="9">60</text>
<text class="mn" transform="scale(0.74 1)" x="260.99 265.45 269.91" y="878" font-size="9">120</text>
<text class="mn" transform="scale(0.74 1)" x="305.11 309.57 314.03" y="878" font-size="9">180</text>
<text class="mn" transform="scale(0.74 1)" x="346.8 351.26 355.72" y="878" font-size="9">240</text>
<text class="mn" transform="scale(0.74 1)" x="388.7 393.16 397.61" y="878" font-size="9">300</text>
<text x="214.53" y="888.4" font-size="9.6" text-anchor="middle" textLength="25.6" lengthAdjust="spacingAndGlyphs">Q(L/min)</text>
</g>
<path class="cv" d="M135.5 867.5L291.75 776.31"/>
<path class="cv" d="M135.5 867.5L291.75 812.44"/>
<path class="cv" d="M135.5 867.5L291.75 833.69"/>
<path class="cv" d="M135.5 867.5L291.75 847.5"/>
<path class="cv" d="M135.5 867.5L291.75 856.42"/>
<path class="cv" d="M135.5 867.5L291.75 860.89"/>
<text x="276.2" y="783.24" font-size="9.3" text-anchor="middle" textLength="6.5" lengthAdjust="spacingAndGlyphs">FT</text>
<text x="282.36" y="813.41" font-size="9.3" text-anchor="middle" textLength="6.5" lengthAdjust="spacingAndGlyphs">FC</text>
<text x="285.76" y="832.96" font-size="9.3" text-anchor="middle" textLength="6.5" lengthAdjust="spacingAndGlyphs">FD</text>
<text x="286.19" y="846.77" font-size="9.3" text-anchor="middle" textLength="6.5" lengthAdjust="spacingAndGlyphs">FV</text>
<text x="286.61" y="855.91" font-size="9.3" text-anchor="middle" textLength="6.5" lengthAdjust="spacingAndGlyphs">MV</text>
<text x="280.88" y="867.18" font-size="9.3" text-anchor="middle" textLength="6.5" lengthAdjust="spacingAndGlyphs">ME</text>
<g>
<path class="miv" d="M329 742.75V867.5M335.25 742.75V867.5M341.5 742.75V867.5M347.75 742.75V867.5M360.25 742.75V867.5M366.5 742.75V867.5M372.75 742.75V867.5M379 742.75V867.5M391.5 742.75V867.5M397.75 742.75V867.5M404 742.75V867.5M410.25 742.75V867.5M422.75 742.75V867.5M429 742.75V867.5M435.25 742.75V867.5M441.5 742.75V867.5M454 742.75V867.5M460.25 742.75V867.5M466.5 742.75V867.5M472.75 742.75V867.5"/>
<path class="mih" d="M322.75 748.99H479M322.75 755.23H479M322.75 761.46H479M322.75 767.7H479M322.75 780.17H479M322.75 786.41H479M322.75 792.65H479M322.75 798.89H479M322.75 811.36H479M322.75 817.6H479M322.75 823.84H479M322.75 830.08H479M322.75 842.55H479M322.75 848.79H479M322.75 855.02H479M322.75 861.26H479"/>
<path class="mav" d="M322.75 742.25V868M354 742.25V868M385.25 742.25V868M416.5 742.25V868M447.75 742.25V868M479 742.25V868"/>
<path class="mah" d="M322.25 742.75H479.5M322.25 773.94H479.5M322.25 805.12H479.5M322.25 836.31H479.5M322.25 867.5H479.5"/>
<text x="401.27" y="728.65" font-size="10.6" text-anchor="middle" textLength="23.4" lengthAdjust="spacingAndGlyphs">LAX330</text>
<text x="312.25" y="733.55" font-size="5.4" fill="#9a9a9a" stroke="none">&#9651;</text>
<text x="317.15" y="735.55" font-size="9.6" textLength="35.4" lengthAdjust="spacingAndGlyphs">P(1<tspan font-size="12.5" dy="0.3">&#215;</tspan><tspan dy="-0.3">10</tspan><tspan font-size="5.2" dy="-4.6">5</tspan><tspan dy="4.6">Pa)</tspan></text>
<text class="mn" transform="scale(0.74 1)" x="417.92 423.71 427.24" y="747.55" font-size="9">1.6</text>
<text class="mn" transform="scale(0.74 1)" x="417.92 423.71 427.24" y="777.24" font-size="9">1.2</text>
<text class="mn" transform="scale(0.74 1)" x="417.92 423.71 427.24" y="809.23" font-size="9">0.8</text>
<text class="mn" transform="scale(0.74 1)" x="417.92 423.71 427.24" y="840.41" font-size="9">0.4</text>
<text class="mn" transform="scale(0.74 1)" x="432.21" y="877.7" font-size="9">0</text>
<text class="mn" transform="scale(0.74 1)" x="472.68 477.14 481.6" y="877.7" font-size="9">100</text>
<text class="mn" transform="scale(0.74 1)" x="515.25 519.71 524.17" y="877.7" font-size="9">200</text>
<text class="mn" transform="scale(0.74 1)" x="556.26 560.72 565.18" y="877.7" font-size="9">300</text>
<text class="mn" transform="scale(0.74 1)" x="600.39 604.84 609.3" y="877.7" font-size="9">400</text>
<text class="mn" transform="scale(0.74 1)" x="641.4 645.86 650.32" y="877.7" font-size="9">500</text>
<text x="400.98" y="888.3" font-size="9.6" text-anchor="middle" textLength="25.6" lengthAdjust="spacingAndGlyphs">Q(L/min)</text>
</g>
<path class="cv" d="M322.75 867.5L479 755.06"/>
<path class="cv" d="M322.75 867.5L479 797.14"/>
<path class="cv" d="M322.75 867.5L479 821.36"/>
<path class="cv" d="M322.75 867.5L479 840.06"/>
<path class="cv" d="M322.75 867.5L479 855.36"/>
<path class="cv" d="M322.75 867.5L479 859.83"/>
<text x="458.25" y="768.79" font-size="9.3" text-anchor="middle" textLength="6.5" lengthAdjust="spacingAndGlyphs">FT</text>
<text x="469.94" y="798.54" font-size="9.3" text-anchor="middle" textLength="6.5" lengthAdjust="spacingAndGlyphs">FC</text>
<text x="471.42" y="821.27" font-size="9.3" text-anchor="middle" textLength="6.5" lengthAdjust="spacingAndGlyphs">FD</text>
<text x="451.45" y="844.23" font-size="9.3" text-anchor="middle" textLength="6.5" lengthAdjust="spacingAndGlyphs">FV</text>
<text x="474.82" y="853.36" font-size="9.3" text-anchor="middle" textLength="6.5" lengthAdjust="spacingAndGlyphs">MV</text>
<text x="465.05" y="864.41" font-size="9.3" text-anchor="middle" textLength="6.5" lengthAdjust="spacingAndGlyphs">ME</text>
<g>
<path class="miv" d="M516.65 742.75V867.5M522.9 742.75V867.5M529.15 742.75V867.5M535.4 742.75V867.5M547.9 742.75V867.5M554.15 742.75V867.5M560.4 742.75V867.5M566.65 742.75V867.5M579.15 742.75V867.5M585.4 742.75V867.5M591.65 742.75V867.5M597.9 742.75V867.5M610.4 742.75V867.5M616.65 742.75V867.5M622.9 742.75V867.5M629.15 742.75V867.5M641.65 742.75V867.5M647.9 742.75V867.5M654.15 742.75V867.5M660.4 742.75V867.5"/>
<path class="mih" d="M510.4 748.99H666.65M510.4 755.23H666.65M510.4 761.46H666.65M510.4 767.7H666.65M510.4 780.17H666.65M510.4 786.41H666.65M510.4 792.65H666.65M510.4 798.89H666.65M510.4 811.36H666.65M510.4 817.6H666.65M510.4 823.84H666.65M510.4 830.08H666.65M510.4 842.55H666.65M510.4 848.79H666.65M510.4 855.02H666.65M510.4 861.26H666.65"/>
<path class="mav" d="M510.4 742.25V868M541.65 742.25V868M572.9 742.25V868M604.15 742.25V868M635.4 742.25V868M666.65 742.25V868"/>
<path class="mah" d="M509.9 742.75H667.15M509.9 773.94H667.15M509.9 805.12H667.15M509.9 836.31H667.15M509.9 867.5H667.15"/>
<text x="588.92" y="728.65" font-size="10.6" text-anchor="middle" textLength="23.4" lengthAdjust="spacingAndGlyphs">LAX660</text>
<text x="499.9" y="733.55" font-size="5.4" fill="#9a9a9a" stroke="none">&#9651;</text>
<text x="504.8" y="735.55" font-size="9.6" textLength="35.4" lengthAdjust="spacingAndGlyphs">P(1<tspan font-size="12.5" dy="0.3">&#215;</tspan><tspan dy="-0.3">10</tspan><tspan font-size="5.2" dy="-4.6">5</tspan><tspan dy="4.6">Pa)</tspan></text>
<text class="mn" transform="scale(0.74 1)" x="671.5 677.29 680.82" y="747.55" font-size="9">1.6</text>
<text class="mn" transform="scale(0.74 1)" x="671.5 677.29 680.82" y="777.24" font-size="9">1.2</text>
<text class="mn" transform="scale(0.74 1)" x="671.5 677.29 680.82" y="809.23" font-size="9">0.8</text>
<text class="mn" transform="scale(0.74 1)" x="671.5 677.29 680.82" y="840.41" font-size="9">0.4</text>
<text class="mn" transform="scale(0.74 1)" x="685.59" y="877.9" font-size="9">0</text>
<text class="mn" transform="scale(0.74 1)" x="725.39 729.84 734.3" y="877.9" font-size="9">150</text>
<text class="mn" transform="scale(0.74 1)" x="767.34 771.8 776.26" y="877.9" font-size="9">300</text>
<text class="mn" transform="scale(0.74 1)" x="810.52 814.98 819.44" y="877.9" font-size="9">450</text>
<text class="mn" transform="scale(0.74 1)" x="853.7 858.16 862.61" y="877.9" font-size="9">600</text>
<text class="mn" transform="scale(0.74 1)" x="895.05 899.51 903.97" y="877.9" font-size="9">750</text>
<text x="589.32" y="888.3" font-size="9.6" text-anchor="middle" textLength="25.6" lengthAdjust="spacingAndGlyphs">Q(L/min)</text>
</g>
<path class="cv" d="M510.4 867.5L666.65 766.33"/>
<path class="cv" d="M510.4 867.5L666.65 795.01"/>
<path class="cv" d="M510.4 867.5L666.65 818.39"/>
<path class="cv" d="M510.4 867.5L666.65 835.81"/>
<path class="cv" d="M510.4 867.5L666.65 854.94"/>
<path class="cv" d="M510.4 867.5L666.65 864.5"/>
<text x="656.51" y="769.43" font-size="9.3" text-anchor="middle" textLength="6.5" lengthAdjust="spacingAndGlyphs">FT</text>
<text x="655.45" y="797.48" font-size="9.3" text-anchor="middle" textLength="6.5" lengthAdjust="spacingAndGlyphs">FC</text>
<text x="660.55" y="819.15" font-size="9.3" text-anchor="middle" textLength="6.5" lengthAdjust="spacingAndGlyphs">FD</text>
<text x="660.12" y="835.73" font-size="9.3" text-anchor="middle" textLength="6.5" lengthAdjust="spacingAndGlyphs">FV</text>
<text x="661.83" y="852.73" font-size="9.3" text-anchor="middle" textLength="6.5" lengthAdjust="spacingAndGlyphs">MV</text>
<text x="661.19" y="862.71" font-size="9.3" text-anchor="middle" textLength="6.5" lengthAdjust="spacingAndGlyphs">ME</text>
</svg>
</body></html>
